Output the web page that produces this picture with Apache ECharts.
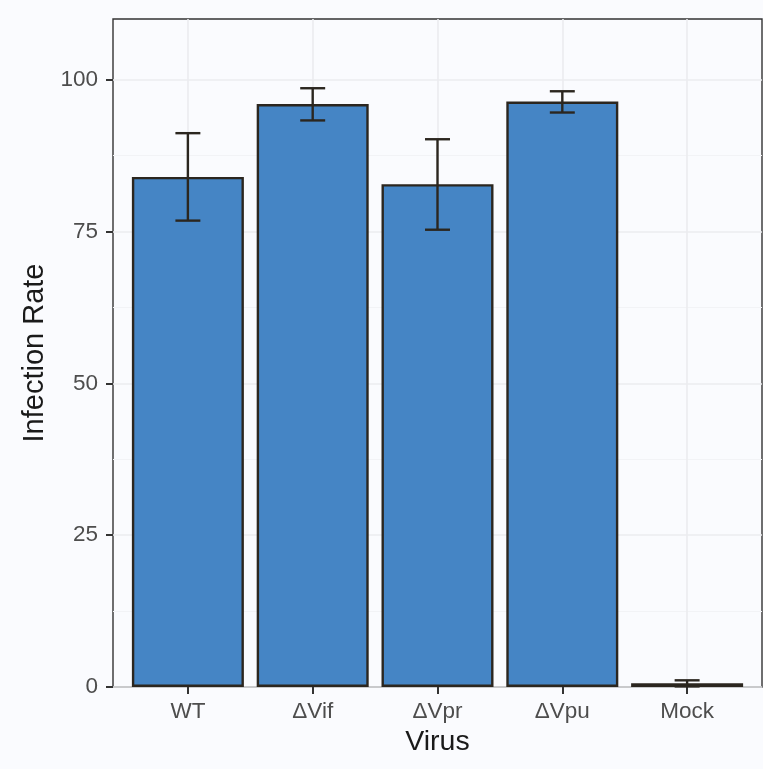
<!DOCTYPE html>
<html>
<head>
<meta charset="utf-8">
<script src="https://cdn.jsdelivr.net/npm/echarts@6/dist/echarts.min.js"></script>
<style>
  html, body { margin: 0; padding: 0; background: #fafbfe; }
  #chart { width: 763px; height: 769px; }
</style>
</head>
<body>
<div id="chart"></div>
<script>
// Infection rate per virus strain, mean with error range
const categories = ['WT', '\u0394Vif', '\u0394Vpr', '\u0394Vpu', 'Mock'];
const rates = [84.0, 96.0, 82.8, 96.4, 0.6];
const errLow = [76.8, 93.3, 75.3, 94.6, 0.1];
const errHigh = [91.2, 98.6, 90.2, 98.1, 1.1];
const yTicks = [0, 25, 50, 75, 100];

const positions = categories.map((_, i) => i + 1);
const barData = rates.map((v, i) => [positions[i], v]);
const errData = positions.map((p, i) => [p, errLow[i], errHigh[i]]);

const ink = '#2b261f';
const textGrey = '#4d4d4d';
const font = '"Liberation Sans", Arial, Helvetica, sans-serif';

const chart = echarts.init(document.getElementById('chart'));
chart.setOption({
  backgroundColor: '#fafbfe',
  animation: false,
  grid: {
    left: 113, right: 1, top: 19, bottom: 82,
    show: true, borderColor: '#333333', borderWidth: 1.4,
    backgroundColor: 'transparent'
  },
  xAxis: {
    type: 'value',
    min: 0.4, max: 5.6,
    name: 'Virus',
    nameLocation: 'middle',
    nameGap: 40,
    nameTextStyle: { color: '#1a1a1a', fontSize: 28.5, fontFamily: font },
    axisLine: { show: false },
    axisTick: { show: true, length: 7, customValues: positions, lineStyle: { color: '#333', width: 2 } },
    axisLabel: {
      customValues: positions,
      color: textGrey, fontSize: 22.5, fontFamily: font, margin: 13,
      formatter: v => categories[Math.round(v) - 1] || ''
    },
    splitLine: { show: true, lineStyle: { color: '#ebecef', width: 1.6 } }
  },
  yAxis: {
    type: 'value',
    min: 0, max: 110, interval: 25,
    name: 'Infection Rate',
    nameLocation: 'middle',
    nameGap: 64,
    nameTextStyle: { color: '#1a1a1a', fontSize: 29, fontFamily: font },
    axisLine: { show: false },
    axisTick: { show: true, length: 7, customValues: yTicks, lineStyle: { color: '#333', width: 2 } },
    axisLabel: {
      customValues: yTicks,
      color: textGrey, fontSize: 22.5, fontFamily: font, margin: 15
    },
    splitLine: { show: true, lineStyle: { color: '#ebecef', width: 1.6 } },
    minorTick: { show: false, splitNumber: 2 },
    minorSplitLine: { show: true, lineStyle: { color: '#f2f3f6', width: 1 } }
  },
  series: [
    {
      type: 'bar',
      data: barData,
      barWidth: 112,
      itemStyle: { color: '#4585c5', borderColor: ink, borderWidth: 2.4 }
    },
    {
      type: 'custom',
      data: errData,
      z: 5,
      renderItem: function (params, api) {
        const x = api.value(0);
        const lo = api.coord([x, api.value(1)]);
        const hi = api.coord([x, api.value(2)]);
        const half = api.size([0.2, 0])[0] / 2;
        const style = { stroke: ink, lineWidth: 2.4 };
        return {
          type: 'group',
          children: [
            { type: 'line', shape: { x1: lo[0], y1: lo[1], x2: hi[0], y2: hi[1] }, style },
            { type: 'line', shape: { x1: hi[0] - half, y1: hi[1], x2: hi[0] + half, y2: hi[1] }, style },
            { type: 'line', shape: { x1: lo[0] - half, y1: lo[1], x2: lo[0] + half, y2: lo[1] }, style }
          ]
        };
      }
    }
  ]
});
</script>
</body>
</html>
